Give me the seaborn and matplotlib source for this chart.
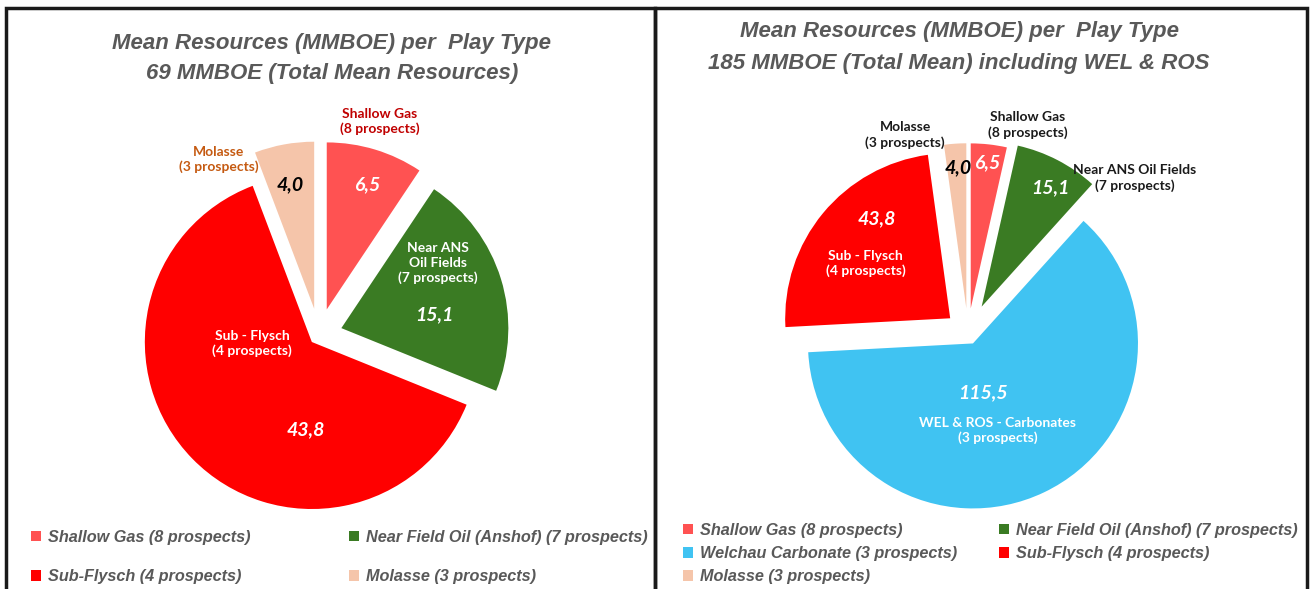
import matplotlib
matplotlib.use("Agg")
import matplotlib.pyplot as plt
import seaborn as sns
from matplotlib.patches import Rectangle
from matplotlib.font_manager import fontManager

sns.set_theme(style="white")
names = {f.name for f in fontManager.ttflist}
COND = 'Liberation Sans Narrow' if 'Liberation Sans Narrow' in names else 'Liberation Sans'
LAB = 'Lato' if 'Lato' in names else 'DejaVu Sans'
plt.rcParams['font.family'] = [COND, 'DejaVu Sans']

# ---------------- data ----------------
left_title = "Mean Resources (MMBOE) per  Play Type\n69 MMBOE (Total Mean Resources)"
right_title = "Mean Resources (MMBOE) per  Play Type\n185 MMBOE (Total Mean) including WEL & ROS"

left_keys = ["shallow", "near", "sub", "molasse"]
left_values = [6.5, 15.1, 43.8, 4.0]
left_value_labels = ["6,5", "15,1", "43,8", "4,0"]

right_keys = ["shallow", "near", "wel", "sub", "molasse"]
right_values = [6.5, 15.1, 115.5, 43.8, 4.0]
right_value_labels = ["6,5", "15,1", "115,5", "43,8", "4,0"]

legend_labels = {
    "shallow": "Shallow Gas (8 prospects)",
    "near": "Near Field Oil (Anshof) (7 prospects)",
    "sub": "Sub-Flysch (4 prospects)",
    "molasse": "Molasse (3 prospects)",
    "wel": "Welchau Carbonate (3 prospects)",
}
colors = {
    "shallow": "#FF5252",
    "near": "#3A7B23",
    "sub": "#FF0000",
    "molasse": "#F5C5AA",
    "wel": "#40C3F2",
}

# ---------------- style ----------------
left_explode = [0.16, 0.14, 0.06, 0.16]
right_explode = [0.15, 0.18, 0.07, 0.14, 0.15]

W, H = 1311, 589
fig = plt.figure(figsize=(W / 100, H / 100), dpi=100)
fig.patch.set_facecolor("white")


def pie_axes(cx, cy, r, half=230):
    ax = fig.add_axes([(cx - half) / W, (H - cy - half) / H, 2 * half / W, 2 * half / H])
    return ax, half / r


def draw_pie(ax, lim, keys, values, explode):
    wedges, _ = ax.pie(values, colors=[colors[k] for k in keys], explode=explode,
                       startangle=90, counterclock=False,
                       wedgeprops=dict(linewidth=0))
    ax.set_xlim(-lim, lim)
    ax.set_ylim(-lim, lim)
    ax.set_aspect("equal")
    ax.axis("off")
    return wedges


lab_kw = dict(ha="center", va="center", fontweight="bold", family=[LAB, 'DejaVu Sans'],
              linespacing=1.25)
val_kw = dict(ha="center", va="center", fontweight="bold", fontstyle="italic",
              family=[LAB, 'DejaVu Sans'])

# ---- left pie ----
axL, limL = pie_axes(319, 335, 167)
wL = draw_pie(axL, limL, left_keys, left_values, left_explode)
axL.text(0.365, 1.28, "Shallow Gas\n(8 prospects)", color="#C00000", fontsize=10, **lab_kw)
axL.text(-0.60, 1.05, "Molasse\n(3 prospects)", color="#C55A11", fontsize=10, **lab_kw)
axL.text(0.71, 0.43, "Near ANS\nOil Fields\n(7 prospects)", color="white", fontsize=10, **lab_kw)
axL.text(-0.40, -0.05, "Sub - Flysch\n(4 prospects)", color="white", fontsize=10, **lab_kw)
for (x, y), t, c in zip([(0.29, 0.90), (0.69, 0.12), (-0.08, -0.57), (-0.17, 0.90)],
                        left_value_labels, ["white", "white", "white", "black"]):
    axL.text(x, y, t, color=c, fontsize=14, **val_kw)

# ---- right pie ----
axR, limR = pie_axes(968, 333, 165)
wR = draw_pie(axR, limR, right_keys, right_values, right_explode)
axR.text(-0.38, 1.20, "Molasse\n(3 prospects)", color="#1a1a1a", fontsize=10, **lab_kw)
axR.text(0.36, 1.26, "Shallow Gas\n(8 prospects)", color="#1a1a1a", fontsize=10, **lab_kw)
axR.text(1.01, 0.94, "Near ANS Oil Fields\n(7 prospects)", color="#1a1a1a", fontsize=10, **lab_kw)
axR.text(-0.62, 0.42, "Sub - Flysch\n(4 prospects)", color="white", fontsize=10, **lab_kw)
axR.text(0.18, -0.59, "WEL & ROS - Carbonates\n(3 prospects)", color="white", fontsize=10, **lab_kw)
for (x, y), t, c in zip([(0.115, 1.03), (0.50, 0.88), (0.09, -0.36), (-0.55, 0.69), (-0.06, 1.0)],
                        right_value_labels, ["white", "white", "white", "white", "black"]):
    axR.text(x, y, t, color=c, fontsize=14, **val_kw)

# ---- titles ----
title_kw = dict(ha="center", va="center", fontsize=16, fontweight="bold", fontstyle="italic",
                color="#595959", transform=fig.transFigure)
for i, line in enumerate(left_title.split("\n")):
    fig.text(332 / W, 1 - (43 + 31 * i) / H, line, **title_kw)
for i, line in enumerate(right_title.split("\n")):
    fig.text(959 / W, 1 - (32 + 31 * i) / H, line, **title_kw)

# ---- legends ----
leg_font = dict(size=11.7, weight="bold", style="italic")


def column_legend(handles, labels, x, y_top, spacing):
    lg = fig.legend(handles, labels, loc="upper left", bbox_to_anchor=(x / W, 1 - y_top / H),
                    bbox_transform=fig.transFigure, frameon=False, prop=leg_font,
                    handlelength=0.6, handleheight=0.6, handletextpad=0.45,
                    borderpad=0, borderaxespad=0, labelspacing=spacing)
    for t in lg.get_texts():
        t.set_color("#595959")
    return lg


hL = dict(zip(left_keys, wL))
column_legend([hL["shallow"], hL["sub"]], [legend_labels["shallow"], legend_labels["sub"]], 31, 530, 1.5)
column_legend([hL["near"], hL["molasse"]], [legend_labels["near"], legend_labels["molasse"]], 349, 530, 1.5)

hR = dict(zip(right_keys, wR))
column_legend([hR["shallow"], hR["wel"], hR["molasse"]],
              [legend_labels["shallow"], legend_labels["wel"], legend_labels["molasse"]], 683, 523, 0.5)
column_legend([hR["near"], hR["sub"]], [legend_labels["near"], legend_labels["sub"]], 999, 523, 0.5)

# ---- panel borders ----
for x0, x1 in [(6, 655), (655, 1307)]:
    fig.add_artist(Rectangle((x0 / W, -0.05), (x1 - x0) / W, 1.05 - 8 / H,
                             transform=fig.transFigure, fill=False, lw=2.5, ec="#1a1a1a"))

fig.savefig("out.png", dpi=100, facecolor="white")
